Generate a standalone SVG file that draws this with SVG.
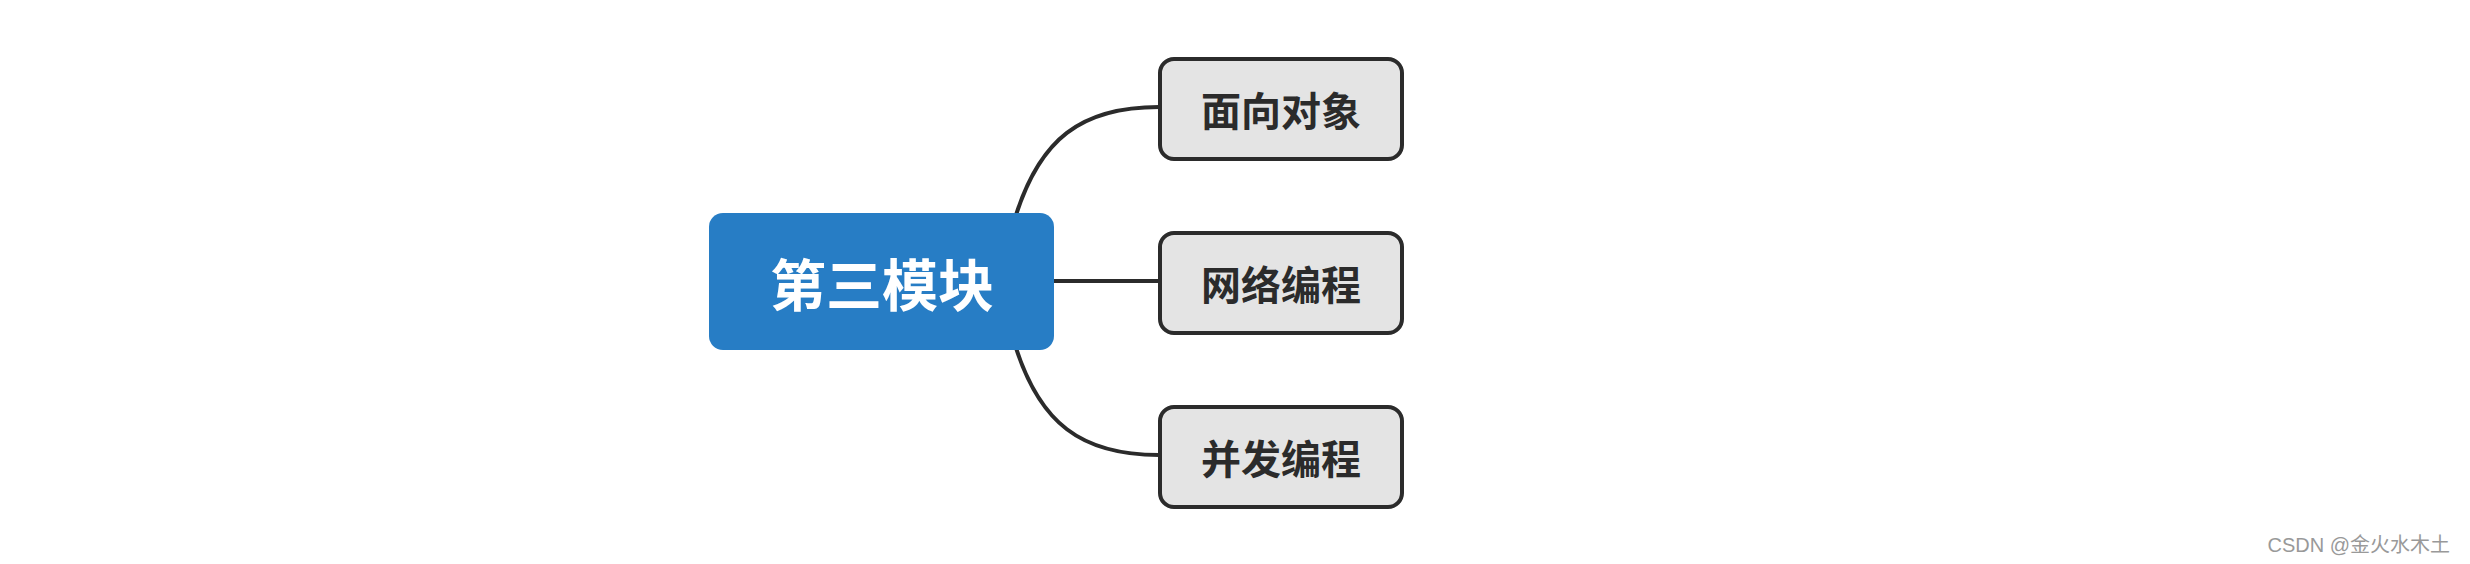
<svg xmlns="http://www.w3.org/2000/svg" width="2470" height="564" viewBox="0 0 2470 564">
<style>
.c{fill:#e4e4e4;stroke:#2b2b2b;stroke-width:4}
.t{font-family:"Noto Sans CJK SC",sans-serif;font-weight:bold;text-anchor:middle;dominant-baseline:central}
.l{fill:none;stroke:#2b2b2b;stroke-width:4}
</style>
<rect width="2470" height="564" fill="#fff"/>
<g id="connectors">
<path class="l" d="M1016 215 C1040 140 1080 107 1159 107"/>
<path class="l" d="M1054 281 H1159"/>
<path class="l" d="M1016 348 C1040 422 1080 455 1159 455"/>
</g>
<g id="root">
<rect x="709" y="213" width="345" height="137" rx="14" fill="#277dc5"/>
<text class="t" x="882" y="281" font-size="56" fill="#fff">第三模块</text>
</g>
<g id="n1"><rect class="c" x="1160" y="59" width="242" height="100" rx="14"/><text class="t" x="1281" y="109" font-size="40" fill="#2b2b2b">面向对象</text></g>
<g id="n2"><rect class="c" x="1160" y="233" width="242" height="100" rx="14"/><text class="t" x="1281" y="283" font-size="40" fill="#2b2b2b">网络编程</text></g>
<g id="n3"><rect class="c" x="1160" y="407" width="242" height="100" rx="14"/><text class="t" x="1281" y="457" font-size="40" fill="#2b2b2b">并发编程</text></g>
<text x="2450" y="552" font-size="20" fill="#999" text-anchor="end" font-family="Liberation Sans,'Noto Sans CJK SC',sans-serif">CSDN @金火水木土</text>
</svg>
